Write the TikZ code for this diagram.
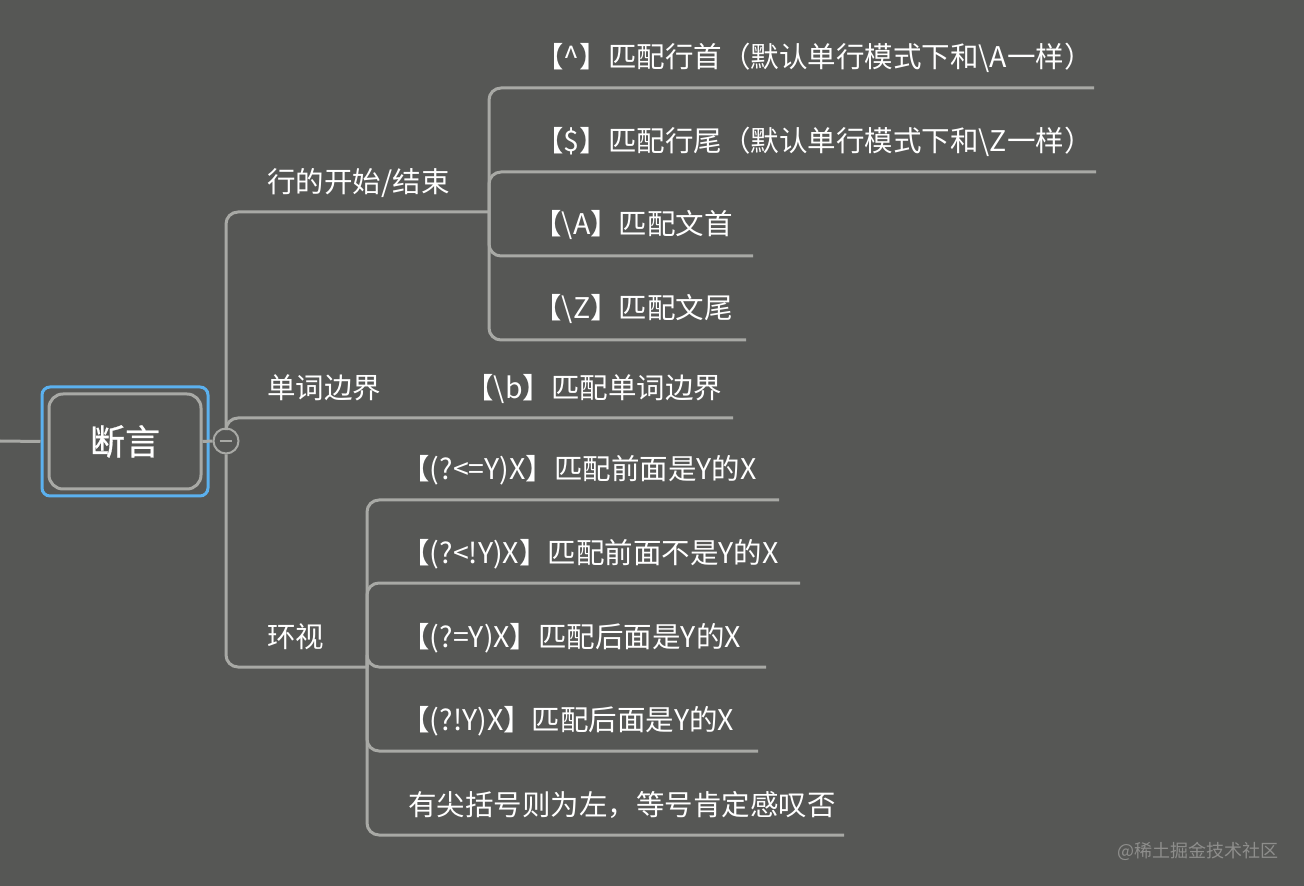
\documentclass[tikz,border=0pt]{standalone}
\usepackage{fontspec}
\setmainfont{Noto Sans CJK SC}
\usetikzlibrary{positioning}
\definecolor{bg}{HTML}{565755}
\definecolor{ln}{HTML}{A8A9A5}
\definecolor{sel}{HTML}{5BB1EF}
\definecolor{wm}{HTML}{8E8E8C}

\begin{document}
\begin{tikzpicture}[x=0.5pt,y=-0.5pt,
  font=\fontsize{14.25}{17}\selectfont,
  t/.style={anchor=base west,inner sep=0,text=white},
  c/.style={draw=ln,line width=1.5pt,rounded corners=6pt}]
\fill[bg] (0,0) rectangle (1304,886);
\useasboundingbox (0,0) rectangle (1304,886);
% root
\node[draw=sel,line width=1.5pt,rounded corners=4pt,minimum width=83pt,minimum height=54.5pt] (rs) at (125,441.5) {};
\node[draw=ln,line width=1.5pt,rounded corners=7pt,minimum width=76pt,minimum height=47.5pt,
  text=white,font=\fontsize{17.5}{20}\selectfont\addfontfeatures{FakeBold=0.8}] (rt) at (125,441.5) {断言};
\node[circle,draw=ln,line width=1pt,fill=bg,minimum size=12.5pt,inner sep=0] (hub) at (226,441) {};
\draw[ln,line width=1pt] ([xshift=-3.2pt]hub.center) -- ([xshift=3.2pt]hub.center);
\coordinate (lft) at (0,441);
% branches
\node[t] (r1) at (267,193) {行的开始/结束};
\node[t] (r2) at (267,399) {单词边界};
\node[t] (r3) at (267,647) {环视};
\node[t] (a1) at (535,68) {【\textasciicircum】匹配行首（默认单行模式下和\textbackslash A一样）};
\node[t] (a2) at (535,152) {【\$】匹配行尾（默认单行模式下和\textbackslash Z一样）};
\node[t] (a3) at (533,235) {【\textbackslash A】匹配文首};
\node[t] (a4) at (533,319) {【\textbackslash Z】匹配文尾};
\node[t] (b1) at (465,399) {【\textbackslash b】匹配单词边界};
\node[t] (c1) at (401,480) {【(?<=Y)X】匹配前面是Y的X};
\node[t] (c2) at (401,563) {【(?<!Y)X】匹配前面不是Y的X};
\node[t] (c3) at (401,647) {【(?=Y)X】匹配后面是Y的X};
\node[t] (c4) at (401,730) {【(?!Y)X】匹配后面是Y的X};
\node[t] (c5) at (408,815) {有尖括号则为左，等号肯定感叹否};
\node[t,text=wm,font=\fontsize{9}{11}\selectfont] (mark) at (1117,857) {@稀土掘金技术社区};
% underline ends
\coordinate (k1) at (489,212);
\coordinate (k2) at (733,418);
\coordinate (k3) at (367,667);
\coordinate (e1) at (1094,88);
\coordinate (e2) at (1096,172);
\coordinate (e3) at (753,256);
\coordinate (e4) at (746,340);
\coordinate (f1) at (779,500);
\coordinate (f2) at (800,583);
\coordinate (f3) at (766,667);
\coordinate (f4) at (758,751);
\coordinate (f5) at (844,835);
\draw[c](lft)--(rs.west);\draw[c](rt.east)--(hub.west);
\draw[c](hub.north)|-(k1);\draw[c](hub.north)|-(k2);\draw[c](hub.south)|-(k3);
\foreach \i in {1,...,4} \draw[c](k1)|-(e\i);
\foreach \i in {1,...,5} \draw[c](k3)|-(f\i);
\end{tikzpicture}
\end{document}
